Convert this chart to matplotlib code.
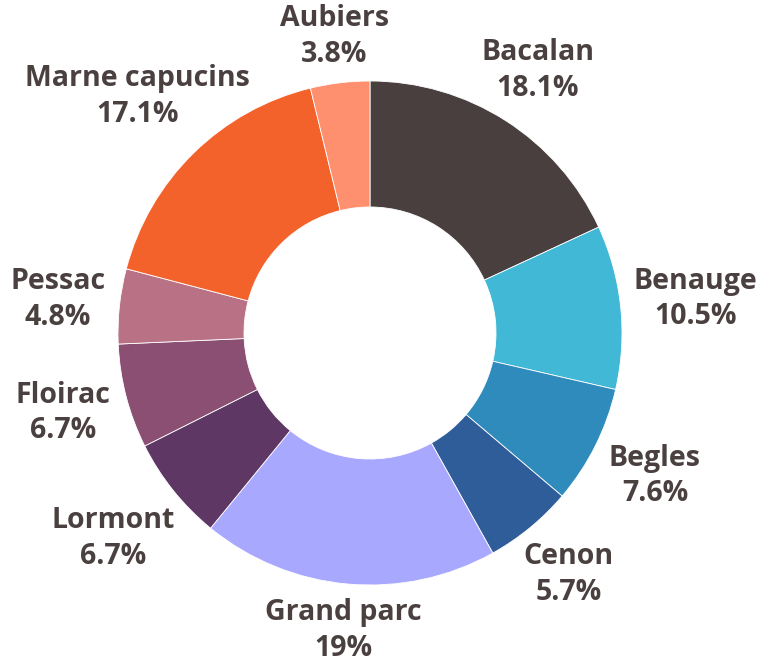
import numpy as np
import matplotlib.pyplot as plt

labels = ['Bacalan', 'Benauge', 'Begles', 'Cenon', 'Grand parc',
          'Lormont', 'Floirac', 'Pessac', 'Marne capucins', 'Aubiers']
values = [18.1, 10.5, 7.6, 5.7, 19, 6.7, 6.7, 4.8, 17.1, 3.8]
colors = ['#4a3f3f', '#40b8d6', '#2f8bbb', '#2e5d99', '#a8a8fe',
          '#5e3765', '#8a4f72', '#b97185', '#f4622c', '#fe9070']

# distance of each label centre from the pie centre (outer radius = 1)
label_dist = [1.235, 1.30, 1.265, 1.24, 1.185, 1.305, 1.26, 1.245, 1.315, 1.185]

W, H = 773, 664
cx, cy, R = 370, 333, 252  # centre and outer radius in pixels

fig = plt.figure(figsize=(W / 100, H / 100), dpi=100)
ax = fig.add_axes([0, 0, 1, 1])

wedges, _ = ax.pie(values, colors=colors, startangle=90, counterclock=False,
                   radius=1, wedgeprops=dict(width=0.5, edgecolor='white', linewidth=0.6))

# pie() resets the limits, so set them afterwards
ax.set_xlim(-cx / R, (W - cx) / R)
ax.set_ylim(-(H - cy) / R, cy / R)
ax.axis('off')

for w, lab, v, d in zip(wedges, labels, values, label_dist):
    ang = np.deg2rad((w.theta1 + w.theta2) / 2)
    ax.text(d * np.cos(ang), d * np.sin(ang), lab + '\n' + '%g%%' % v,
            ha='center', va='center', fontsize=20.5, fontweight='bold',
            family='Open Sans', color='#4a4040', linespacing=1.3)

fig.savefig('out.png', dpi=100)
